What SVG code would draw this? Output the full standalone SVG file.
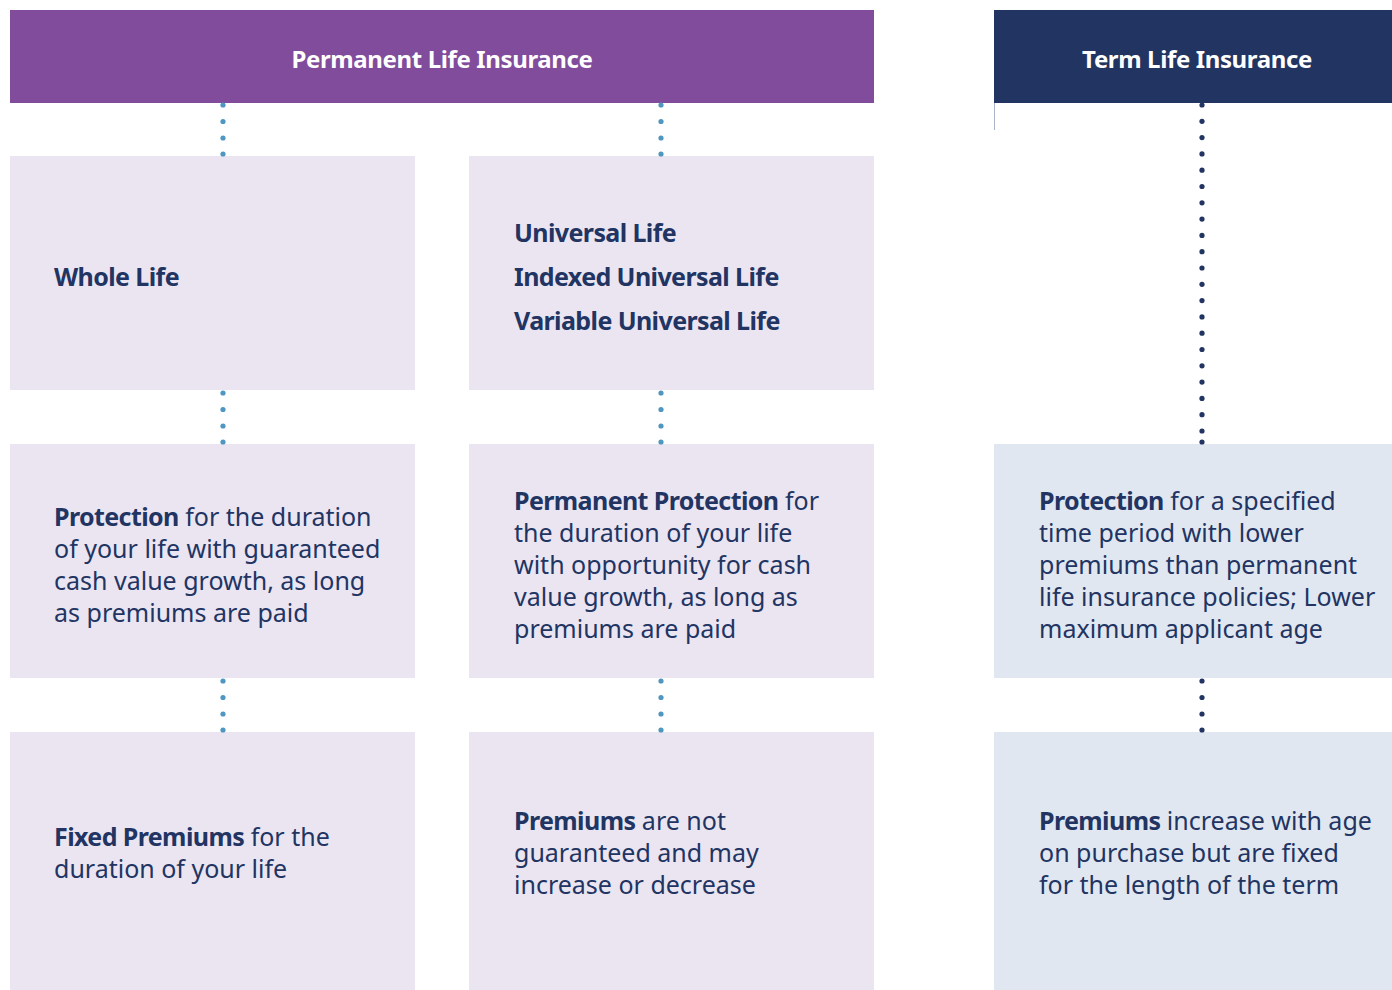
<svg xmlns="http://www.w3.org/2000/svg" width="1392" height="990" viewBox="0 0 1392 990">
  <style>
    .hdr-perm { fill: #814C9C; }
    .hdr-term { fill: #213462; }
    .box-perm { fill: #EBE5F2; }
    .box-term { fill: #E1E7F0; }
    text { font-family: "Noto Sans", "Open Sans", sans-serif; fill: #213462; font-size: 25px; }
    .title { fill: #FFFFFF; font-size: 24px; font-weight: 700; text-anchor: middle; letter-spacing: -0.37px; }
    .head { font-weight: 700; letter-spacing: -0.6px; }
    .b { font-weight: 700; letter-spacing: -0.6px; }
    .dot-perm { fill: #4F97C0; }
    .dot-term { fill: #213462; }
  </style>

  <!-- headers -->
  <g id="permanent-header">
    <rect class="hdr-perm" x="10" y="10" width="864" height="93"/>
    <text class="title" x="442" y="68">Permanent Life Insurance</text>
  </g>
  <g id="term-header">
    <rect class="hdr-term" x="994" y="10" width="398" height="93"/>
    <text class="title" x="1197" y="68">Term Life Insurance</text>
    <line x1="994.5" y1="103" x2="994.5" y2="130" stroke="#A9B3C9" stroke-width="1"/>
  </g>

  <!-- whole life column -->
  <g id="whole-life">
    <rect class="box-perm" x="10" y="156" width="405" height="234"/>
    <text class="head" x="54" y="286">Whole Life</text>
  </g>
  <g id="whole-life-protection">
    <rect class="box-perm" x="10" y="444" width="405" height="234"/>
    <text x="54" y="526"><tspan class="b">Protection</tspan> for the duration</text>
    <text x="54" y="558">of your life with guaranteed</text>
    <text x="54" y="590">cash value growth, as long</text>
    <text x="54" y="622">as premiums are paid</text>
  </g>
  <g id="whole-life-premiums">
    <rect class="box-perm" x="10" y="732" width="405" height="258"/>
    <text x="54" y="846"><tspan class="b">Fixed Premiums</tspan> for the</text>
    <text x="54" y="878">duration of your life</text>
  </g>

  <!-- universal life column -->
  <g id="universal-life">
    <rect class="box-perm" x="469" y="156" width="405" height="234"/>
    <text class="head" x="514" y="242">Universal Life</text>
    <text class="head" x="514" y="286">Indexed Universal Life</text>
    <text class="head" x="514" y="330">Variable Universal Life</text>
  </g>
  <g id="universal-life-protection">
    <rect class="box-perm" x="469" y="444" width="405" height="234"/>
    <text x="514" y="510"><tspan class="b">Permanent Protection</tspan> for</text>
    <text x="514" y="542">the duration of your life</text>
    <text x="514" y="574">with opportunity for cash</text>
    <text x="514" y="606">value growth, as long as</text>
    <text x="514" y="638">premiums are paid</text>
  </g>
  <g id="universal-life-premiums">
    <rect class="box-perm" x="469" y="732" width="405" height="258"/>
    <text x="514" y="830"><tspan class="b">Premiums</tspan> are not</text>
    <text x="514" y="862">guaranteed and may</text>
    <text x="514" y="894">increase or decrease</text>
  </g>

  <!-- term life column -->
  <g id="term-protection">
    <rect class="box-term" x="994" y="444" width="398" height="234"/>
    <text x="1039" y="510"><tspan class="b">Protection</tspan> for a specified</text>
    <text x="1039" y="542">time period with lower</text>
    <text x="1039" y="574">premiums than permanent</text>
    <text x="1039" y="606">life insurance policies; Lower</text>
    <text x="1039" y="638">maximum applicant age</text>
  </g>
  <g id="term-premiums">
    <rect class="box-term" x="994" y="732" width="398" height="258"/>
    <text x="1039" y="830"><tspan class="b">Premiums</tspan> increase with age</text>
    <text x="1039" y="862">on purchase but are fixed</text>
    <text x="1039" y="894">for the length of the term</text>
  </g>

  <!-- dotted connectors -->
  <g id="connectors">
    <g class="dot-perm">
      <circle cx="223" cy="105" r="2.6"/><circle cx="223" cy="121.5" r="2.6"/><circle cx="223" cy="138" r="2.6"/><circle cx="223" cy="154" r="2.6"/>
      <circle cx="661" cy="105" r="2.6"/><circle cx="661" cy="121.5" r="2.6"/><circle cx="661" cy="138" r="2.6"/><circle cx="661" cy="154" r="2.6"/>
      <circle cx="223" cy="393" r="2.6"/><circle cx="223" cy="409.5" r="2.6"/><circle cx="223" cy="426" r="2.6"/><circle cx="223" cy="442" r="2.6"/>
      <circle cx="661" cy="393" r="2.6"/><circle cx="661" cy="409.5" r="2.6"/><circle cx="661" cy="426" r="2.6"/><circle cx="661" cy="442" r="2.6"/>
      <circle cx="223" cy="681" r="2.6"/><circle cx="223" cy="697.5" r="2.6"/><circle cx="223" cy="714" r="2.6"/><circle cx="223" cy="730" r="2.6"/>
      <circle cx="661" cy="681" r="2.6"/><circle cx="661" cy="697.5" r="2.6"/><circle cx="661" cy="714" r="2.6"/><circle cx="661" cy="730" r="2.6"/>
    </g>
    <g class="dot-term">
      <circle cx="1202" cy="105" r="2.6"/><circle cx="1202" cy="121.3" r="2.6"/><circle cx="1202" cy="137.6" r="2.6"/><circle cx="1202" cy="153.9" r="2.6"/>
      <circle cx="1202" cy="170.2" r="2.6"/><circle cx="1202" cy="186.5" r="2.6"/><circle cx="1202" cy="202.8" r="2.6"/><circle cx="1202" cy="219.1" r="2.6"/>
      <circle cx="1202" cy="235.4" r="2.6"/><circle cx="1202" cy="251.7" r="2.6"/><circle cx="1202" cy="268" r="2.6"/><circle cx="1202" cy="284.3" r="2.6"/>
      <circle cx="1202" cy="300.6" r="2.6"/><circle cx="1202" cy="316.9" r="2.6"/><circle cx="1202" cy="333.2" r="2.6"/><circle cx="1202" cy="349.5" r="2.6"/>
      <circle cx="1202" cy="365.8" r="2.6"/><circle cx="1202" cy="382.1" r="2.6"/><circle cx="1202" cy="398.4" r="2.6"/><circle cx="1202" cy="414.7" r="2.6"/>
      <circle cx="1202" cy="431" r="2.6"/><circle cx="1202" cy="442" r="2.6"/>
      <circle cx="1202" cy="681" r="2.6"/><circle cx="1202" cy="697.5" r="2.6"/><circle cx="1202" cy="714" r="2.6"/><circle cx="1202" cy="730" r="2.6"/>
    </g>
  </g>
</svg>
